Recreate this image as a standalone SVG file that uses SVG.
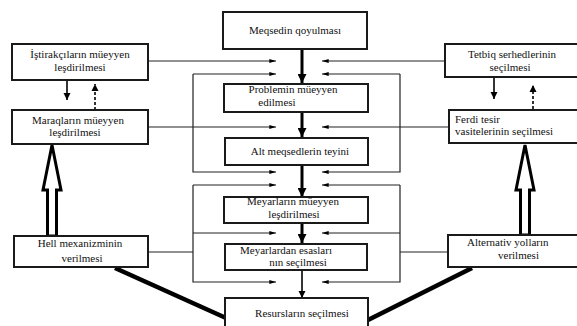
<svg xmlns="http://www.w3.org/2000/svg" width="577" height="326" viewBox="0 0 577 326">
<style>
.box{fill:#fff;stroke:#1a1a1a;stroke-width:2}
.t{font-family:'Liberation Serif','DejaVu Serif','Times New Roman',serif;font-size:11px;fill:#111}
.c{text-anchor:middle}
.ln{fill:none;stroke:#222;stroke-width:1.2}
.ca{fill:none;stroke:#000;stroke-width:3}
.da{fill:none;stroke:#000;stroke-width:1.6;stroke-dasharray:3 2}
.sa{fill:none;stroke:#000;stroke-width:1.6}
.dg{fill:none;stroke:#000;stroke-width:4.5}
.ha{fill:#fff;stroke:#000;stroke-width:3;stroke-linejoin:miter}
</style>
<defs>
<marker id="sm" viewBox="0 0 10 6" refX="10" refY="3" markerWidth="7" markerHeight="4" markerUnits="userSpaceOnUse" orient="auto"><path d="M0,0 L10,3 L0,6 z" fill="#000"/></marker>
<marker id="big" viewBox="0 0 10 10" refX="10" refY="5" markerWidth="9" markerHeight="9" markerUnits="userSpaceOnUse" orient="auto"><path d="M0,0 L10,5 L0,10 z" fill="#000"/></marker>
<marker id="mid" viewBox="0 0 10 10" refX="10" refY="5" markerWidth="7" markerHeight="8" markerUnits="userSpaceOnUse" orient="auto"><path d="M0,0 L10,5 L0,10 z" fill="#000"/></marker>
</defs>
<rect width="577" height="326" fill="#fff"/>

<g id="connectors">
  <path class="ln" d="M148,61 H276" marker-end="url(#sm)"/>
  <path class="ln" d="M446,61 H322" marker-end="url(#sm)"/>
  <path class="ln" d="M193,74 H276" marker-end="url(#sm)"/>
  <path class="ln" d="M193,74 V172 H276" marker-end="url(#sm)"/>
  <path class="ln" d="M148,127 H276" marker-end="url(#sm)"/>
  <path class="ln" d="M193,185 H276" marker-end="url(#sm)"/>
  <path class="ln" d="M193,185 V282 H276" marker-end="url(#sm)"/>
  <path class="ln" d="M193,233 H276" marker-end="url(#sm)"/>
  <path class="ln" d="M148,252 H193"/>
  <path class="ln" d="M400,74 H322" marker-end="url(#sm)"/>
  <path class="ln" d="M400,74 V172 H322" marker-end="url(#sm)"/>
  <path class="ln" d="M449,127 H322" marker-end="url(#sm)"/>
  <path class="ln" d="M400,185 H322" marker-end="url(#sm)"/>
  <path class="ln" d="M400,185 V282 H322" marker-end="url(#sm)"/>
  <path class="ln" d="M400,233 H322" marker-end="url(#sm)"/>
  <path class="ln" d="M448,252 H400"/>
  <path class="ca" d="M302,49 V83" marker-end="url(#big)"/>
  <path class="ca" d="M302,112 V137" marker-end="url(#big)"/>
  <path class="ca" d="M302,165 V197" marker-end="url(#big)"/>
  <path class="ca" d="M302,223 V243" marker-end="url(#big)"/>
  <path class="sa" d="M302,270 V298" marker-end="url(#mid)"/>
  <path class="sa" d="M67,80 V100" marker-end="url(#mid)"/>
  <path class="da" d="M95,110 V84" marker-end="url(#mid)"/>
  <path class="sa" d="M494,77 V99" marker-end="url(#mid)"/>
  <path class="da" d="M533,109 V85" marker-end="url(#mid)"/>
  <polygon class="ha" points="52,145 61,190 56.5,190 56.5,236 47.5,236 47.5,190 43,190"/>
  <polygon class="ha" points="525,145 534,190 529.5,190 529.5,235 520.5,235 520.5,190 516,190"/>
  <path class="dg" d="M115,268 L226,318"/>
  <path class="dg" d="M472,268 L368,320"/>
</g>

<g id="n-meqsed"><rect class="box" x="223" y="12" width="144" height="37"/><text class="t c" x="295" y="34">Meqsedin qoyulması</text></g>
<g id="n-problem"><rect class="box" x="224" y="84" width="144" height="28"/><text class="t c" x="293" y="93">Problemin müeyyen</text><text class="t c" x="277" y="106">edilmesi</text></g>
<g id="n-alt"><rect class="box" x="225" y="138" width="143" height="27"/><text class="t c" x="300" y="155">Alt meqsedlerin teyini</text></g>
<g id="n-meyar1"><rect class="box" x="224" y="197" width="144" height="26"/><text class="t c" x="293" y="205" font-size="10.5">Meyarların müeyyen</text><text class="t c" x="294" y="218" font-size="10.5">leşdirilmesi</text></g>
<g id="n-meyar2"><rect class="box" x="225" y="244" width="142" height="26"/><text class="t c" x="286" y="254" font-size="10.5">Meyarlardan esasları</text><text class="t c" x="298" y="266" font-size="10.5">nın seçilmesi</text></g>
<g id="n-resurs"><rect class="box" x="225" y="298" width="143" height="32"/><text class="t c" x="302" y="317">Resursların seçilmesi</text></g>

<g id="n-istirak"><rect class="box" x="12" y="44" width="136" height="36"/><text class="t c" x="80" y="58">İştirakçıların müeyyen</text><text class="t c" x="80" y="71">leşdirilmesi</text></g>
<g id="n-maraq"><rect class="box" x="12" y="110" width="136" height="34"/><text class="t c" x="78" y="124">Maraqların müeyyen</text><text class="t c" x="75" y="136">leşdirilmesi</text></g>
<g id="n-hell"><rect class="box" x="14" y="236" width="134" height="31"/><text class="t c" x="80" y="247">Hell mexanizminin</text><text class="t c" x="82" y="262">verilmesi</text></g>

<g id="n-tetbiq"><rect class="box" x="445" y="44" width="140" height="33"/><text class="t c" x="512" y="58">Tetbiq serhedlerinin</text><text class="t c" x="510" y="71">seçilmesi</text></g>
<g id="n-ferdi"><rect class="box" x="449" y="110" width="136" height="33"/><text class="t" x="455" y="123">Ferdi tesir</text><text class="t" x="455" y="135">vasitelerinin seçilmesi</text></g>
<g id="n-altern"><rect class="box" x="448" y="235" width="137" height="32"/><text class="t" x="467" y="246">Alternativ yolların</text><text class="t" x="498" y="259">verilmesi</text></g>
</svg>
